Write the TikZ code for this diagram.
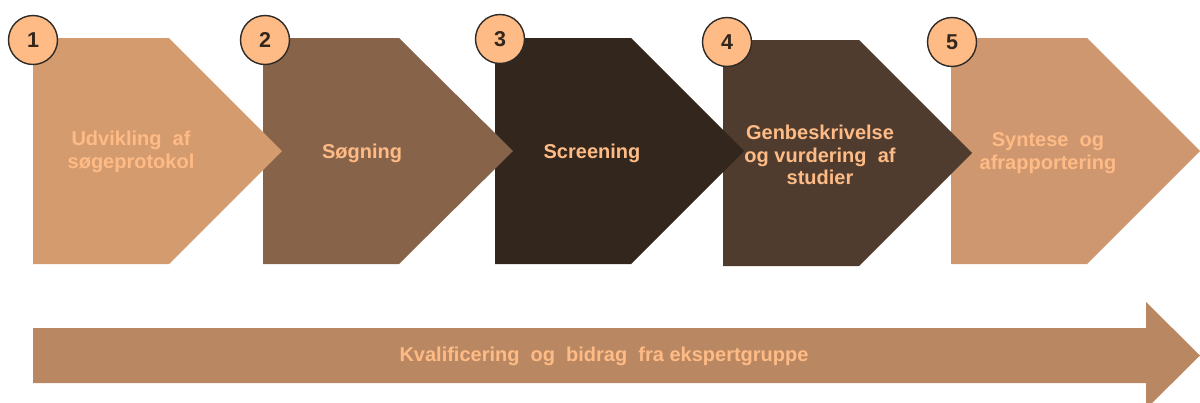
\documentclass[tikz,border=0pt]{standalone}
\usepackage{fontspec}
\setmainfont{Liberation Sans}
\definecolor{cA}{HTML}{D49B6F}
\definecolor{cB}{HTML}{87634A}
\definecolor{cC}{HTML}{33261C}
\definecolor{cD}{HTML}{4F3C2E}
\definecolor{cE}{HTML}{CF9770}
\definecolor{cArrow}{HTML}{B98862}
\definecolor{txt}{HTML}{FFBB85}
\definecolor{numfill}{HTML}{FFBB85}
\definecolor{numtxt}{HTML}{33261C}
\definecolor{ring}{HTML}{2E2A26}
\begin{document}
\begin{tikzpicture}[x=1pt,y=-1pt,
  lbl/.style={text=txt, font=\fontsize{20}{22.5}\selectfont\bfseries, align=center, inner sep=0pt},
  num/.style={circle, draw=ring, line width=1.4pt, fill=numfill, minimum size=49pt, inner sep=0pt,
              font=\fontsize{21.5}{21.5}\selectfont\bfseries, text=numtxt}]
\clip (0,0) rectangle (1200,402);
% step shapes, drawn last-to-first so each tip lies over the next shape
\fill[cE] (951,38) -- (1087,38) -- (1200,151) -- (1087,264) -- (951,264) -- cycle;
\fill[cD] (723,40) -- (859,40) -- (972,153) -- (859,266) -- (723,266) -- cycle;
\fill[cC] (495,38) -- (631,38) -- (744,151) -- (631,264) -- (495,264) -- cycle;
\fill[cB] (263,38) -- (399,38) -- (513,151) -- (399,264) -- (263,264) -- cycle;
\fill[cA] (33,38) -- (169,38) -- (282,151) -- (169,264) -- (33,264) -- cycle;
% labels
\node[lbl] (t1) at (131,152) {Udvikling\ \ af\\søgeprotokol};
\node[lbl] (t2) at (362,153) {Søgning};
\node[lbl] (t3) at (592,153) {Screening};
\node[lbl] (t4) at (820,155) {Genbeskrivelse\\og vurdering\ \ af\\studier};
\node[lbl] (t5) at (1048,153) {Syntese\ \ og\\afrapportering};
% number badges
\node[num] (n1) at (33,40) {1};
\node[num] (n2) at (265,40) {2};
\node[num] (n3) at (500,39) {3};
\node[num] (n4) at (727,42) {4};
\node[num] (n5) at (952,42) {5};
% bottom arrow
\fill[cArrow] (33,328) -- (1146,328) -- (1146,302) -- (1200,355.5) -- (1146,409) -- (1146,383) -- (33,383) -- cycle;
\node[lbl] (bt) at (604,356) {Kvalificering\ \ og\ \ bidrag\ \ fra\ ekspertgruppe};
\end{tikzpicture}
\end{document}
